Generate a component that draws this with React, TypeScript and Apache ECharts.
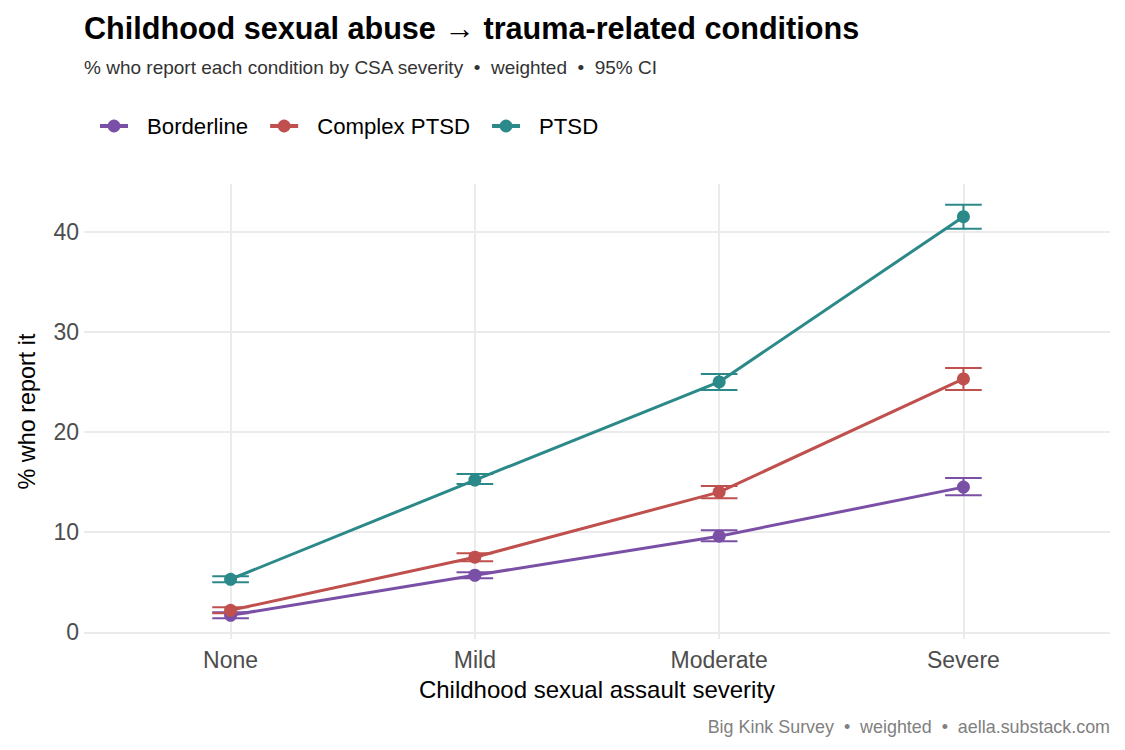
import React, { useEffect, useRef } from "react";
import * as echarts from "echarts";

// CSA severity levels on the x axis
const severity = ["None", "Mild", "Moderate", "Severe"];

// Share (%) reporting each condition, with 95% CI bounds
const borderline = [1.7, 5.7, 9.6, 14.5];
const borderlineLo = [1.4, 5.4, 9.1, 13.7];
const borderlineHi = [2.0, 6.0, 10.2, 15.4];

const complexPtsd = [2.2, 7.5, 14.0, 25.3];
const complexPtsdLo = [1.9, 7.1, 13.4, 24.2];
const complexPtsdHi = [2.5, 7.9, 14.6, 26.4];

const ptsd = [5.3, 15.2, 25.0, 41.5];
const ptsdLo = [5.0, 14.8, 24.2, 40.3];
const ptsdHi = [5.6, 15.8, 25.8, 42.7];

const yTicks = [0, 10, 20, 30, 40];

const FONT = "'Liberation Sans', Arial, sans-serif";

const groups = [
  { name: "Borderline", color: "#7A4FA6", mid: borderline, lo: borderlineLo, hi: borderlineHi },
  { name: "Complex PTSD", color: "#C0504D", mid: complexPtsd, lo: complexPtsdLo, hi: complexPtsdHi },
  { name: "PTSD", color: "#2B8A89", mid: ptsd, lo: ptsdLo, hi: ptsdHi },
];

export default function App() {
  const ref = useRef<HTMLDivElement>(null);

  useEffect(() => {
    document.body.style.margin = "0";
    if (!ref.current) return;
    const chart = echarts.init(ref.current, null, { renderer: "svg" });

    // ggplot-style 5% expansion of the y range and 0.6 unit padding on the discrete x axis
    const allLo = Math.min(...groups.flatMap((g) => g.lo));
    const allHi = Math.max(...groups.flatMap((g) => g.hi));
    const span = allHi - allLo;
    const yMin = allLo - span * 0.05;
    const yMax = allHi + span * 0.05;

    const lineSeries = groups.map((g) => ({
      name: g.name,
      type: "line",
      data: g.mid.map((v, i) => [i, v]),
      symbol: "circle",
      symbolSize: 13,
      z: 3,
      lineStyle: { color: g.color, width: 3 },
      itemStyle: { color: g.color },
      emphasis: { disabled: true },
    }));

    const barSeries = groups.map((g) => ({
      name: g.name,
      type: "custom",
      z: 2,
      data: g.mid.map((_, i) => [i, g.lo[i], g.hi[i]]),
      renderItem: (_params: any, api: any) => {
        const x = api.value(0);
        const pLo = api.coord([x, api.value(1)]);
        const pHi = api.coord([x, api.value(2)]);
        const half = api.size([0.15, 0])[0] / 2;
        const style = { stroke: g.color, lineWidth: 2 };
        return {
          type: "group",
          children: [
            { type: "line", shape: { x1: pLo[0], y1: pLo[1], x2: pHi[0], y2: pHi[1] }, style },
            { type: "line", shape: { x1: pLo[0] - half, y1: pLo[1], x2: pLo[0] + half, y2: pLo[1] }, style },
            { type: "line", shape: { x1: pHi[0] - half, y1: pHi[1], x2: pHi[0] + half, y2: pHi[1] }, style },
          ],
        };
      },
    }));

    chart.setOption({
      animation: false,
      backgroundColor: "#ffffff",
      title: [
        {
          text: "Childhood sexual abuse → trauma-related conditions",
          left: 79,
          top: 7,
          textStyle: { fontFamily: FONT, fontSize: 30.6, fontWeight: "bold", color: "#000000" },
        },
        {
          text: "% who report each condition by CSA severity  •  weighted  •  95% CI",
          left: 79,
          top: 53,
          textStyle: { fontFamily: FONT, fontSize: 19, fontWeight: "normal", color: "#333333" },
        },
        {
          text: "Big Kink Survey  •  weighted  •  aella.substack.com",
          right: 10,
          top: 713,
          textStyle: { fontFamily: FONT, fontSize: 17.9, fontWeight: "normal", color: "#808080" },
        },
      ],
      legend: {
        data: groups.map((g) => g.name),
        left: 93,
        top: 110,
        itemWidth: 28,
        itemHeight: 16,
        itemGap: 20,
        selectedMode: false,
        lineStyle: { width: 4 },
        textStyle: { fontFamily: FONT, fontSize: 22.2, color: "#000000", padding: [0, 0, 0, 14] },
      },
      grid: { left: 84, right: 15, top: 184, bottom: 111, outerBoundsMode: "none" },
      xAxis: {
        type: "value",
        min: -0.6,
        max: severity.length - 1 + 0.6,
        name: "Childhood sexual assault severity",
        nameLocation: "middle",
        nameGap: 38,
        nameMoveOverlap: false,
        nameTextStyle: { fontFamily: FONT, fontSize: 24, color: "#000000" },
        axisLine: { show: false },
        axisTick: { show: false },
        axisLabel: {
          fontFamily: FONT,
          fontSize: 23,
          color: "#4D4D4D",
          margin: 9,
          showMinLabel: false,
          showMaxLabel: false,
          formatter: (v: number) => (Number.isInteger(v) && severity[v] !== undefined ? severity[v] : ""),
        },
        splitLine: {
          show: true,
          showMinLine: false,
          showMaxLine: false,
          lineStyle: { color: "#EBEBEB", width: 2 },
        },
      },
      yAxis: {
        type: "value",
        min: yMin,
        max: yMax,
        name: "% who report it",
        nameLocation: "middle",
        nameGap: 46,
        nameMoveOverlap: false,
        nameTextStyle: { fontFamily: FONT, fontSize: 23.4, color: "#000000" },
        axisLine: { show: false },
        axisTick: { show: false },
        axisLabel: {
          fontFamily: FONT,
          fontSize: 23,
          color: "#4D4D4D",
          margin: 5,
          showMinLabel: false,
          showMaxLabel: false,
          formatter: (v: number) => (yTicks.includes(v) ? String(v) : ""),
        },
        splitLine: {
          show: true,
          showMinLine: false,
          showMaxLine: false,
          lineStyle: { color: "#EBEBEB", width: 2 },
        },
      },
      series: [...lineSeries, ...barSeries],
    });

    return () => chart.dispose();
  }, []);

  return <div ref={ref} style={{ width: 1125, height: 750 }} />;
}
